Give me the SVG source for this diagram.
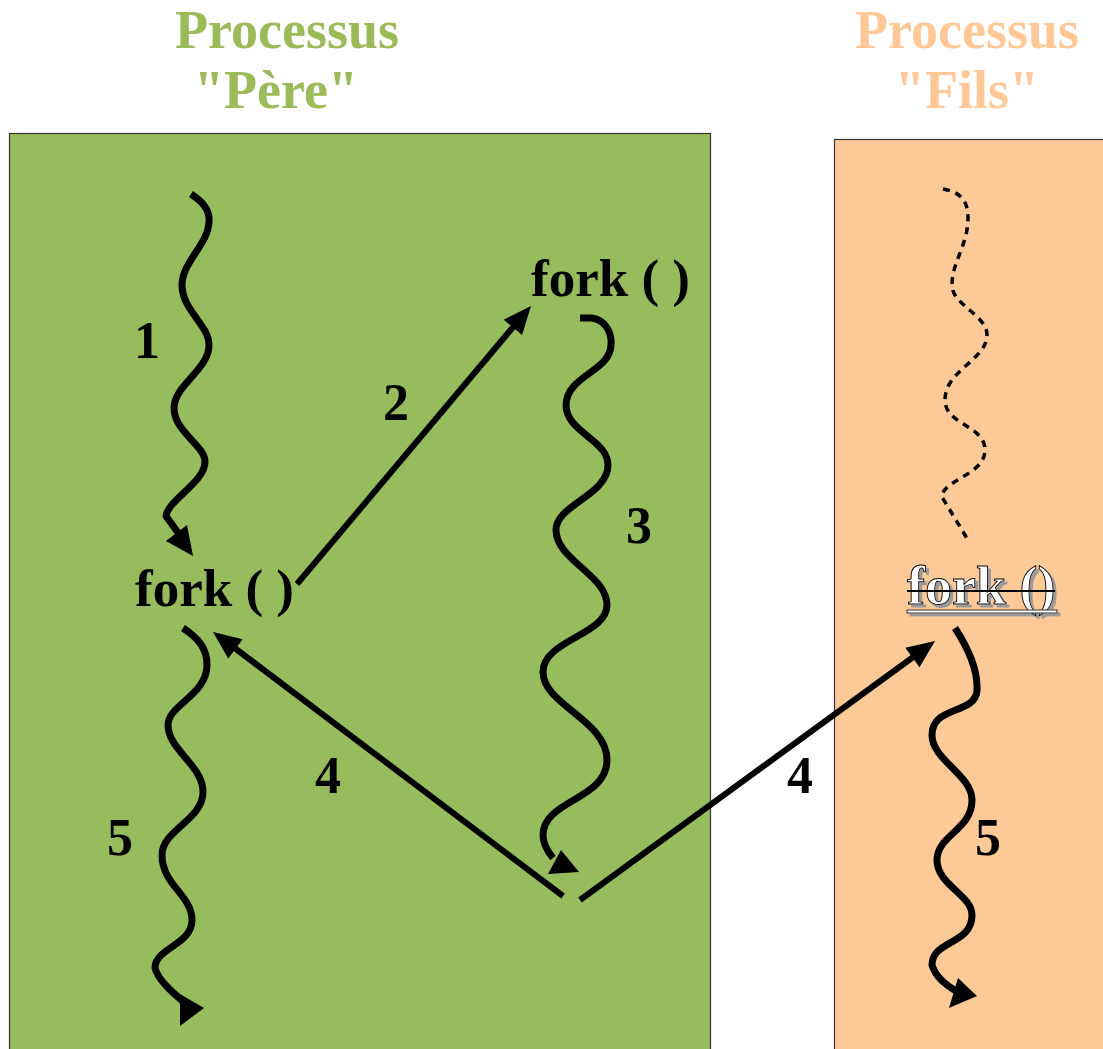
<svg xmlns="http://www.w3.org/2000/svg" width="1103" height="1049" viewBox="0 0 1103 1049">
  <style>
    .title { font-family: "Liberation Serif", "Times New Roman", serif; font-weight: bold; font-size: 54px; text-anchor: middle; }
    .lbl { font-family: "Liberation Serif", "Times New Roman", serif; font-weight: bold; font-size: 53px; fill: #000; }
    .num { font-family: "Liberation Serif", "Times New Roman", serif; font-weight: bold; font-size: 52px; fill: #000; text-anchor: middle; }
    .wave { fill: none; stroke: #000; stroke-width: 7; stroke-linecap: butt; stroke-linejoin: round; }
    .dash { fill: none; stroke: #000; stroke-width: 3.5; stroke-dasharray: 7 6; }
    .line { stroke: #000; stroke-width: 6; fill: none; }
    .head { fill: #000; }
  </style>
  <defs>
    <filter id="shadow" x="-10%" y="-20%" width="130%" height="150%">
      <feDropShadow dx="3" dy="3" stdDeviation="0" flood-color="#9a9a9a" flood-opacity="1"/>
    </filter>
  </defs>

  <rect width="1103" height="1049" fill="#ffffff"/>

  <!-- process frames -->
  <g id="parent-process">
    <rect x="9.5" y="133.5" width="701" height="930" fill="#97BC5D" stroke="#333" stroke-width="1.2"/>
    <text class="title" x="287" y="48" fill="#9BBB59">Processus</text>
    <text class="title" x="276" y="108" fill="#9BBB59">"Père"</text>
  </g>
  <g id="child-process">
    <rect x="834.5" y="139.5" width="300" height="930" fill="#FDC997" stroke="#333" stroke-width="1.2"/>
    <text class="title" x="967" y="48" fill="#FFC896">Processus</text>
    <text class="title" x="967" y="108" fill="#FFC896">"Fils"</text>
  </g>

  <!-- fork calls -->
  <g id="fork-parent">
    <text class="lbl" x="135" y="606">fork ( )</text>
  </g>
  <g id="fork-top">
    <text class="lbl" x="531" y="296">fork ( )</text>
  </g>
  <g id="fork-child">
    <g filter="url(#shadow)">
      <text class="lbl" x="907" y="604" style="fill:#fff;stroke:#000;stroke-width:0.9;font-size:54px">fork ()</text>
      <rect x="907" y="610" width="150" height="3" fill="#fff" stroke="#000" stroke-width="0.8"/>
    </g>
    <line x1="907" y1="591" x2="1055" y2="591" stroke="#000" stroke-width="2"/>
  </g>

  <!-- step numbers -->
  <g id="labels">
    <text class="num" x="147" y="358">1</text>
    <text class="num" x="396" y="420">2</text>
    <text class="num" x="639" y="543">3</text>
    <text class="num" x="328" y="793">4</text>
    <text class="num" x="800" y="793">4</text>
    <text class="num" x="120" y="855">5</text>
    <text class="num" x="988" y="855">5</text>
  </g>

  <!-- execution flows and transitions -->
  <g id="connectors">
    <!-- 1: parent runs up to fork -->
    <path class="wave" d="M191,194 C203,202 210,210 209,222 C208,245 182,262 182,285 C182,310 209,325 209,345 C209,370 174,385 174,408 C174,432 205,445 205,462 C205,482 168,500 166,516 L181,537"/>
    <polygon class="head" points="166,541 193,556 187,525"/>

    <!-- 2: call into fork -->
    <line class="line" x1="297" y1="584" x2="514" y2="326"/>
    <polygon class="head" points="531,306 522.1,335.1 503.7,319.7"/>

    <!-- 3: fork executes -->
    <path class="wave" d="M580,318 L592,318 C605,320 612,332 611,345 C610,372 567,375 566,405 C566,432 608,440 608,465 C608,495 556,505 556,530 C556,560 607,575 607,605 C607,635 543,640 543,672 C543,705 607,720 607,760 C607,800 543,800 543,835 C543,845 548,852 553,858"/>
    <polygon class="head" points="548,874 579,872 561,850"/>

    <!-- 4: return to both processes -->
    <line class="line" x1="563" y1="896" x2="232" y2="646"/>
    <polygon class="head" points="213,632 242.6,639.3 228.2,658.5"/>
    <line class="line" x1="580" y1="900" x2="916" y2="655"/>
    <polygon class="head" points="935,641 919.5,667.2 905.3,647.8"/>

    <!-- 5: both processes continue -->
    <path class="wave" d="M183,628 C198,638 207,648 207,665 C207,695 168,705 168,725 C168,750 203,765 203,792 C203,820 162,830 162,855 C162,885 192,895 192,920 C192,945 155,948 155,968 C158,980 172,992 186,1004"/>
    <polygon class="head" points="180,994 204,1008 180,1026"/>
    <path class="wave" d="M955,628 C968,648 978,670 977,690 C976,715 932,705 932,735 C932,760 972,775 972,800 C972,830 937,835 937,860 C937,885 972,895 972,915 C972,945 932,940 932,965 C935,975 945,985 958,992"/>
    <polygon class="head" points="949,1008 977,996 958,978"/>

    <!-- child did not exist before fork -->
    <path class="dash" d="M943,189 C960,192 968,200 968,218 C968,245 952,262 952,285 C952,305 987,315 987,335 C987,360 945,370 945,400 C945,425 985,425 985,450 C985,475 942,480 942,497 L968,540"/>
  </g>
</svg>
